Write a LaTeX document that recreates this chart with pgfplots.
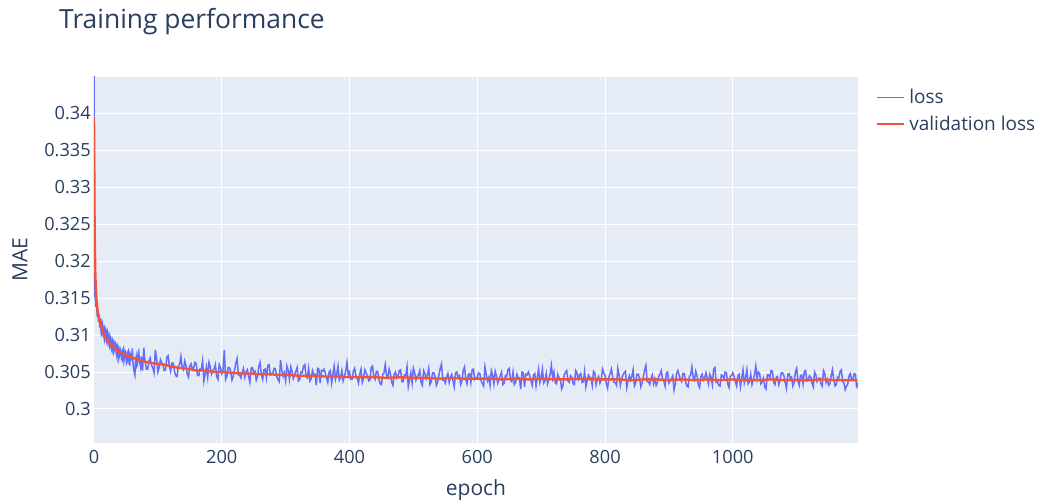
\documentclass[border=0pt]{standalone}
\usepackage{fontspec}
\setmainfont{Open Sans}
\usepackage{pgfplots}
\pgfplotsset{compat=1.18}
\definecolor{plotbg}{HTML}{E5ECF6}
\definecolor{txt}{HTML}{2A3F5F}
\definecolor{lossc}{HTML}{636EFA}
\definecolor{valc}{HTML}{EF553B}
\begin{document}
\begin{tikzpicture}
\path[use as bounding box] (0,0) rectangle (1037pt,503pt);
\node[anchor=west, text=txt, font=\fontsize{26.4}{30}\selectfont, inner sep=0pt] at (59pt,481pt) {Training performance};
\begin{axis}[
  at={(94pt,60pt)}, anchor=south west,
  scale only axis, width=764pt, height=366pt,
  xmin=0, xmax=1196, ymin=0.2954, ymax=0.3449,
  axis background/.style={fill=plotbg},
  axis line style={draw=none},
  major tick length=0pt,
  grid=major, grid style={white, line width=1pt},
  xtick={0,200,400,600,800,1000}, xticklabels={0,200,400,600,800,1000},
  ytick={0.3,0.305,0.31,0.315,0.32,0.325,0.33,0.335,0.34},
  yticklabels={0.3,0.305,0.31,0.315,0.32,0.325,0.33,0.335,0.34},
  tick label style={text=txt, font=\fontsize{18.2}{21}\selectfont},
  yticklabel style={inner xsep=0pt, xshift=-3pt},
  xticklabel style={inner ysep=0pt, yshift=-7pt},
  xlabel={epoch}, ylabel={MAE},
  label style={text=txt, font=\fontsize{21}{25}\selectfont},
  xlabel style={at={(axis description cs:0.5,-0.128)}, anchor=center},
  ylabel style={at={(axis description cs:-0.0969,0.5)}, anchor=center},
  legend style={at={(axis description cs:1.024,0.972)}, anchor=north west, draw=none, fill=none,
    font=\fontsize{19}{22}\selectfont, text=txt, row sep=7pt, column sep=2pt, inner sep=0pt},
  legend cell align=left,
  legend image code/.code={\draw[#1] (0pt,0pt) -- (27pt,0pt);},
  legend image post style={line width=1.8pt},
]
\addplot[lossc, line width=1.5pt] coordinates {
(0,0.3470)(1,0.3155)(2,0.3150)(3,0.3138)(4,0.3148)(5,0.3125)(6,0.3132)(7,0.3118)(8,0.3128)(9,0.3110)(10,0.3122)(11,0.3105)(12,0.3098)(13,0.3116)(14,0.3112)(15,0.3100)(16,0.3095)(17,0.3110)(18,0.3108)(19,0.3093)(20,0.3090)(21,0.3105)(22,0.3102)(23,0.3088)(24,0.3085)(25,0.3099)(26,0.3096)(27,0.3082)(28,0.3079)(29,0.3094)(30,0.3092)(31,0.3077)(32,0.3080)(33,0.3090)(34,0.3088)(35,0.3074)(36,0.3070)(37,0.3086)(38,0.3084)(39,0.3069)(40,0.3074)(41,0.3081)(42,0.3078)(43,0.3068)(44,0.3066)(45,0.3080)(46,0.3082)(47,0.3065)(48,0.3070)(49,0.3078)(50,0.3076)(51,0.3062)(52,0.3064)(53,0.3077)(54,0.3079)(55,0.3061)(56,0.3060)(57,0.3074)(58,0.3072)(59,0.3066)(60,0.3082)(61,0.3063)(62,0.3055)(63,0.3050)(64,0.3046)(65,0.3064)(66,0.3070)(67,0.3058)(68,0.3060)(69,0.3075)(70,0.3078)(71,0.3066)(72,0.3062)(73,0.3057)(74,0.3071)(75,0.3060)(76,0.3052)(77,0.3068)(78,0.3083)(79,0.3070)
(80,0.3064)(82,0.3054)(84,0.3054)(86,0.3065)(88,0.3069)(90,0.3059)(92,0.3056)(94,0.3049)(96,0.3080)(98,0.3068)(100,0.3050)(102,0.3056)(104,0.3067)(106,0.3063)(108,0.3059)(110,0.3052)(112,0.3053)(114,0.3070)(116,0.3072)(118,0.3058)
(120,0.3051)(122,0.3062)(124,0.3062)(126,0.3051)(128,0.3045)(130,0.3044)(132,0.3058)(134,0.3060)(136,0.3071)(138,0.3056)(140,0.3053)(142,0.3065)(144,0.3059)(146,0.3047)(148,0.3043)(150,0.3058)(152,0.3061)(154,0.3053)(156,0.3056)(158,0.3063)
(160,0.3061)(162,0.3045)(164,0.3045)(166,0.3054)(168,0.3053)(170,0.3065)(172,0.3038)(174,0.3047)(176,0.3057)(178,0.3043)(180,0.3063)(182,0.3057)(184,0.3047)(186,0.3052)(188,0.3054)(190,0.3060)(192,0.3044)(194,0.3040)(196,0.3060)(198,0.3056)
(200,0.3048)(202,0.3053)(204,0.3080)(206,0.3040)(208,0.3044)(210,0.3056)(212,0.3056)(214,0.3051)(216,0.3039)(218,0.3044)(220,0.3053)(222,0.3062)(224,0.3068)(226,0.3046)(228,0.3046)(230,0.3042)(232,0.3050)(234,0.3055)(236,0.3043)(238,0.3050)
(240,0.3053)(242,0.3044)(244,0.3036)(246,0.3055)(248,0.3056)(250,0.3049)(252,0.3051)(254,0.3039)(256,0.3044)(258,0.3058)(260,0.3063)(262,0.3046)(264,0.3040)(266,0.3053)(268,0.3054)(270,0.3042)(272,0.3059)(274,0.3060)(276,0.3046)(278,0.3048)
(280,0.3049)(282,0.3055)(284,0.3054)(286,0.3044)(288,0.3040)(290,0.3037)(292,0.3066)(294,0.3053)(296,0.3044)(298,0.3049)(300,0.3038)(302,0.3058)(304,0.3052)(306,0.3040)(308,0.3057)(310,0.3051)(312,0.3041)(314,0.3046)(316,0.3051)(318,0.3056)
(320,0.3038)(322,0.3040)(324,0.3050)(326,0.3049)(328,0.3058)(330,0.3060)(332,0.3044)(334,0.3042)(336,0.3055)(338,0.3038)(340,0.3041)(342,0.3052)(344,0.3047)(346,0.3047)(348,0.3032)(350,0.3055)(352,0.3054)(354,0.3035)(356,0.3052)(358,0.3051)
(360,0.3054)(362,0.3049)(364,0.3042)(366,0.3036)(368,0.3050)(370,0.3052)(372,0.3035)(374,0.3047)(376,0.3058)(378,0.3040)(380,0.3047)(382,0.3058)(384,0.3039)(386,0.3042)(388,0.3052)(390,0.3038)(392,0.3044)(394,0.3051)(396,0.3063)(398,0.3046)
(400,0.3050)(402,0.3040)(404,0.3040)(406,0.3051)(408,0.3055)(410,0.3045)(412,0.3042)(414,0.3035)(416,0.3047)(418,0.3054)(420,0.3036)(422,0.3042)(424,0.3053)(426,0.3049)(428,0.3045)(430,0.3038)(432,0.3039)(434,0.3056)(436,0.3058)(438,0.3044)
(440,0.3040)(442,0.3051)(444,0.3051)(446,0.3040)(448,0.3034)(450,0.3033)(452,0.3047)(454,0.3049)(456,0.3060)(458,0.3045)(460,0.3042)(462,0.3054)(464,0.3048)(466,0.3036)(468,0.3032)(470,0.3047)(472,0.3050)(474,0.3042)(476,0.3045)(478,0.3052)
(480,0.3053)(482,0.3037)(484,0.3037)(486,0.3046)(488,0.3045)(490,0.3057)(492,0.3030)(494,0.3039)(496,0.3049)(498,0.3035)(500,0.3055)(502,0.3049)(504,0.3039)(506,0.3044)(508,0.3046)(510,0.3052)(512,0.3036)(514,0.3032)(516,0.3052)(518,0.3048)
(520,0.3041)(522,0.3046)(524,0.3055)(526,0.3033)(528,0.3037)(530,0.3049)(532,0.3049)(534,0.3044)(536,0.3032)(538,0.3037)(540,0.3046)(542,0.3055)(544,0.3061)(546,0.3039)(548,0.3039)(550,0.3035)(552,0.3043)(554,0.3048)(556,0.3036)(558,0.3043)
(560,0.3047)(562,0.3038)(564,0.3030)(566,0.3049)(568,0.3050)(570,0.3043)(572,0.3045)(574,0.3033)(576,0.3038)(578,0.3052)(580,0.3057)(582,0.3040)(584,0.3034)(586,0.3047)(588,0.3048)(590,0.3036)(592,0.3053)(594,0.3054)(596,0.3040)(598,0.3042)
(600,0.3043)(602,0.3049)(604,0.3048)(606,0.3038)(608,0.3034)(610,0.3031)(612,0.3057)(614,0.3047)(616,0.3038)(618,0.3043)(620,0.3032)(622,0.3052)(624,0.3046)(626,0.3034)(628,0.3051)(630,0.3045)(632,0.3035)(634,0.3040)(636,0.3045)(638,0.3050)
(640,0.3033)(642,0.3035)(644,0.3045)(646,0.3044)(648,0.3053)(650,0.3055)(652,0.3039)(654,0.3037)(656,0.3050)(658,0.3033)(660,0.3036)(662,0.3047)(664,0.3042)(666,0.3042)(668,0.3027)(670,0.3050)(672,0.3049)(674,0.3030)(676,0.3047)(678,0.3046)
(680,0.3050)(682,0.3045)(684,0.3038)(686,0.3032)(688,0.3046)(690,0.3048)(692,0.3031)(694,0.3043)(696,0.3054)(698,0.3036)(700,0.3043)(702,0.3054)(704,0.3035)(706,0.3038)(708,0.3048)(710,0.3034)(712,0.3040)(714,0.3047)(716,0.3059)(718,0.3042)
(720,0.3050)(722,0.3036)(724,0.3034)(726,0.3047)(728,0.3042)(730,0.3041)(732,0.3027)(734,0.3031)(736,0.3046)(738,0.3050)(740,0.3052)(742,0.3038)(744,0.3036)(746,0.3045)(748,0.3043)(750,0.3034)(752,0.3033)(754,0.3052)(756,0.3049)(758,0.3040)
(760,0.3046)(762,0.3048)(764,0.3036)(766,0.3037)(768,0.3051)(770,0.3030)(772,0.3038)(774,0.3046)(776,0.3043)(778,0.3042)(780,0.3032)(782,0.3051)(784,0.3049)(786,0.3033)(788,0.3041)(790,0.3044)(792,0.3035)(794,0.3039)(796,0.3054)(798,0.3049)
(800,0.3045)(802,0.3034)(804,0.3028)(806,0.3043)(808,0.3048)(810,0.3054)(812,0.3043)(814,0.3036)(816,0.3036)(818,0.3032)(820,0.3055)(822,0.3046)(824,0.3032)(826,0.3041)(828,0.3046)(830,0.3049)(832,0.3051)(834,0.3029)(836,0.3038)(838,0.3045)
(840,0.3039)(842,0.3044)(844,0.3053)(846,0.3031)(848,0.3035)(850,0.3047)(852,0.3047)(854,0.3042)(856,0.3030)(858,0.3035)(860,0.3044)(862,0.3053)(864,0.3059)(866,0.3037)(868,0.3037)(870,0.3033)(872,0.3041)(874,0.3046)(876,0.3034)(878,0.3041)
(880,0.3032)(882,0.3036)(884,0.3044)(886,0.3047)(888,0.3052)(890,0.3041)(892,0.3038)(894,0.3031)(896,0.3049)(898,0.3050)(900,0.3035)(902,0.3038)(904,0.3041)(906,0.3045)(908,0.3026)(910,0.3034)(912,0.3048)(914,0.3052)(916,0.3046)(918,0.3040)
(920,0.3037)(922,0.3048)(924,0.3048)(926,0.3037)(928,0.3031)(930,0.3030)(932,0.3044)(934,0.3046)(936,0.3057)(938,0.3042)(940,0.3039)(942,0.3051)(944,0.3045)(946,0.3033)(948,0.3029)(950,0.3044)(952,0.3047)(954,0.3039)(956,0.3042)(958,0.3049)
(960,0.3042)(962,0.3034)(964,0.3047)(966,0.3043)(968,0.3033)(970,0.3054)(972,0.3056)(974,0.3036)(976,0.3037)(978,0.3032)(980,0.3031)(982,0.3046)(984,0.3045)(986,0.3041)(988,0.3050)(990,0.3049)(992,0.3034)(994,0.3029)(996,0.3044)(998,0.3045)
(1000,0.3049)(1002,0.3044)(1004,0.3037)(1006,0.3031)(1008,0.3045)(1010,0.3047)(1012,0.3030)(1014,0.3042)(1016,0.3053)(1018,0.3035)(1020,0.3042)(1022,0.3053)(1024,0.3034)(1026,0.3037)(1028,0.3047)(1030,0.3033)(1032,0.3039)(1034,0.3046)(1036,0.3058)(1038,0.3041)
(1040,0.3050)(1042,0.3048)(1044,0.3034)(1046,0.3037)(1048,0.3042)(1050,0.3030)(1052,0.3027)(1054,0.3046)(1056,0.3046)(1058,0.3042)(1060,0.3052)(1062,0.3051)(1064,0.3036)(1066,0.3033)(1068,0.3043)(1070,0.3044)(1072,0.3033)(1074,0.3039)(1076,0.3049)(1078,0.3049)
(1080,0.3045)(1082,0.3036)(1084,0.3028)(1086,0.3047)(1088,0.3048)(1090,0.3041)(1092,0.3043)(1094,0.3031)(1096,0.3036)(1098,0.3050)(1100,0.3055)(1102,0.3038)(1104,0.3032)(1106,0.3045)(1108,0.3046)(1110,0.3034)(1112,0.3051)(1114,0.3052)(1116,0.3038)(1118,0.3040)
(1120,0.3045)(1122,0.3043)(1124,0.3035)(1126,0.3030)(1128,0.3050)(1130,0.3046)(1132,0.3037)(1134,0.3041)(1136,0.3042)(1138,0.3034)(1140,0.3031)(1142,0.3052)(1144,0.3048)(1146,0.3036)(1148,0.3040)(1150,0.3032)(1152,0.3034)(1154,0.3045)(1156,0.3053)(1158,0.3040)
(1160,0.3031)(1162,0.3033)(1164,0.3043)(1166,0.3042)(1168,0.3051)(1170,0.3053)(1172,0.3037)(1174,0.3035)(1176,0.3026)(1178,0.3031)(1180,0.3034)(1182,0.3045)(1184,0.3048)(1186,0.3040)(1188,0.3040)(1190,0.3048)(1192,0.3047)(1194,0.3028)(1195,0.3036)
};
\addlegendentry{loss}
\addplot[valc, line width=2.4pt] coordinates {
(0,0.3395)(1,0.3240)(2,0.3185)(3,0.3160)(4,0.3146)(5,0.3138)(6,0.3131)(8,0.3122)(10,0.3115)(12,0.3109)(15,0.3102)(20,0.3094)(25,0.3088)(30,0.3084)(35,0.3080)(40,0.3077)(45,0.3075)(50,0.3073)(56,0.3071)(62,0.3069)(70,0.3066)(80,0.3064)(90,0.3062)(100,0.3061)(110,0.3060)(120,0.3058)(130,0.3056)(140,0.3055)(150,0.3054)(160,0.3052)(170,0.3052)(180,0.3051)(190,0.3050)(200,0.3050)(215,0.3049)(230,0.3048)(245,0.3048)(260,0.3047)(275,0.3047)(290,0.3046)(305,0.3046)(320,0.3045)(340,0.3045)(360,0.3044)(380,0.3044)(400,0.3043)(420,0.3043)(440,0.3043)(460,0.3042)(480,0.3043)(500,0.3042)(520,0.3042)(540,0.3041)(560,0.3042)(580,0.3041)(600,0.3041)(620,0.3041)(640,0.3040)(660,0.3041)(680,0.3040)(700,0.3041)(720,0.3040)(740,0.3040)(760,0.3041)(780,0.3040)(800,0.3040)(820,0.3040)(840,0.3039)(860,0.3040)(880,0.3040)(900,0.3039)(920,0.3040)(940,0.3039)(960,0.3040)(980,0.3039)(1000,0.3040)(1020,0.3039)(1040,0.3039)(1060,0.3040)(1080,0.3039)(1100,0.3039)(1120,0.3039)(1140,0.3040)(1160,0.3039)(1180,0.3039)(1195,0.3039)
};
\addlegendentry{validation loss}
\end{axis}
\end{tikzpicture}
\end{document}
